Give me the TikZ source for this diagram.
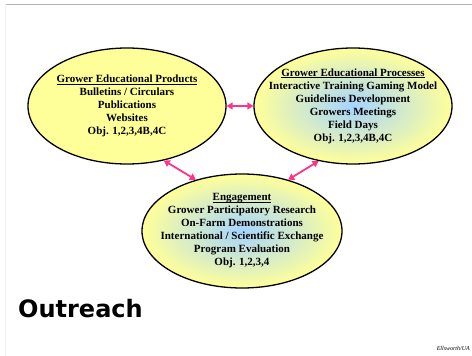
\documentclass[tikz,border=0pt]{standalone}
\usepackage{fontspec}
\setmainfont{Liberation Serif}
\newfontfamily\titlefont{DejaVu Sans}
\usetikzlibrary{shapes.geometric,arrows.meta}
\definecolor{bubblefill}{RGB}{255,255,153}
\definecolor{bubblecore}{RGB}{165,212,255}
\definecolor{linkpink}{RGB}{255,51,136}
% underlined heading built from a rule under the text box
\newcommand\headline[1]{\setbox0\hbox{#1}\rlap{\rule[-1.8pt]{\wd0}{0.6pt}}\box0}
\tikzset{
  bubble/.style={ellipse, draw=black, line width=1.3pt, inner sep=0pt,
    minimum width=198pt, minimum height=116pt},
  plainbubble/.style={bubble, fill=bubblefill},
  glowbubble/.style={bubble, inner color=bubblecore, outer color=bubblefill},
  bubbletext/.style={align=center, inner sep=0pt,
    font=\fontsize{11}{13}\selectfont\bfseries},
  link/.style={linkpink, line width=1.8pt,
    {Triangle[length=6pt,width=7pt]}-{Triangle[length=6pt,width=7pt]}}
}
\begin{document}
\begin{tikzpicture}[x=1pt,y=-1pt]
\useasboundingbox (0,0) rectangle (472,356);
% page frame lines
\draw[gray!60, line width=0.8pt] (5,4) -- (472,4);
\draw[gray!12, line width=0.6pt] (5,4) -- (5,356);

% the three bubbles
\node[plainbubble] (prod) at (127,106) {};
\node[glowbubble] (proc) at (353,106) {};
\node[glowbubble, minimum width=200pt, minimum height=114pt] (eng) at (242,231) {};

% their texts
\node[bubbletext] (prodtext) at (127,106) {\headline{Grower Educational Products}\\
Bulletins / Circulars\\ Publications\\ Websites\\ Obj. 1,2,3,4B,4C};
\node[bubbletext] (proctext) at (353,106) {\headline{Grower Educational Processes}\\
Interactive Training Gaming Model\\ Guidelines Development\\ Growers Meetings\\ Field Days\\ Obj. 1,2,3,4B,4C};
\node[bubbletext] (engtext) at (242,231) {\headline{Engagement}\\
Grower Participatory Research\\ On-Farm Demonstrations\\ International / Scientific Exchange\\ Program Evaluation\\ Obj. 1,2,3,4};

% links between the bubbles
\draw[link] (prod.east) -- (proc.west);
\draw[link] (prod.-56) -- (eng.132);
\draw[link] (proc.-122) -- (eng.48);

\node[anchor=base west, inner sep=0pt, font=\titlefont\fontsize{24}{28}\selectfont\bfseries] (title) at (18,317) {Outreach};
\node[anchor=base east, inner sep=0pt, font=\fontsize{6}{7}\selectfont\itshape] (credit) at (470,350) {Ellsworth/UA};
\end{tikzpicture}
\end{document}
